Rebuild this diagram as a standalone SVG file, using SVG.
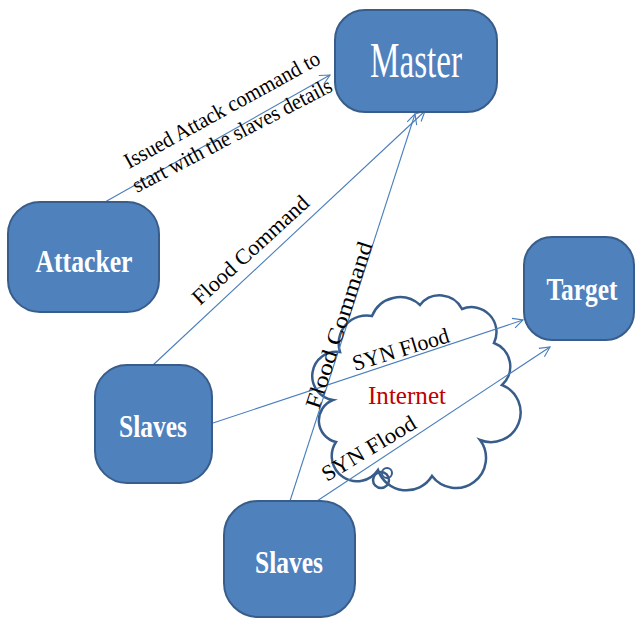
<svg xmlns="http://www.w3.org/2000/svg" width="635" height="619" viewBox="0 0 635 619">
<defs>
<style>
.node{fill:#4f81bd;stroke:#385d8a;stroke-width:2}
.nl{fill:#fff;font-family:"Liberation Serif","Times New Roman",serif;font-weight:bold;font-size:31px;text-anchor:middle}
.edge{fill:none;stroke:#4a7ebb;stroke-width:1.1}
.el{fill:#000;font-family:"Liberation Serif","Times New Roman",serif;font-size:22px}
</style>
<marker id="ah" viewBox="0 0 12 12" refX="11" refY="6" markerWidth="12" markerHeight="12" markerUnits="userSpaceOnUse" orient="auto">
<polyline points="1,1 11,6 1,11" fill="none" stroke="#4a7ebb" stroke-width="1.1"/>
</marker>
</defs>
<rect width="635" height="619" fill="#fff"/>
<g id="cloud">
<path d="M 340 352 A 28 28 0 0 1 372 316 A 30 30 0 0 1 420 305 A 25 25 0 0 1 462 309 A 25 25 0 0 1 494 343 A 25 25 0 0 1 502 385 A 28 28 0 0 1 480 440 A 30 30 0 0 1 432 476 A 30 30 0 0 1 378 470 A 25 25 0 0 1 336 442 A 22 22 0 0 1 333 400 A 22 22 0 0 1 340 352 Z" fill="#fff" stroke="#385d8a" stroke-width="2.5"/>
<circle cx="381" cy="480" r="8" fill="none" stroke="#385d8a" stroke-width="2.5"/>
<circle cx="387" cy="473" r="5" fill="none" stroke="#385d8a" stroke-width="2"/>
<text x="407" y="404" fill="#c00000" font-family="Liberation Serif, Times New Roman, serif" font-size="26" text-anchor="middle" textLength="78" lengthAdjust="spacingAndGlyphs">Internet</text>
</g>
<g id="connectors">
<line class="edge" x1="105" y1="202" x2="330" y2="75" marker-end="url(#ah)"/>
<line class="edge" x1="153" y1="365" x2="425" y2="111" marker-end="url(#ah)"/>
<line class="edge" x1="290" y1="501" x2="415" y2="114" marker-end="url(#ah)"/>
<line class="edge" x1="213" y1="423" x2="523" y2="320" marker-end="url(#ah)"/>
<line class="edge" x1="317" y1="501" x2="550" y2="347" marker-end="url(#ah)"/>
<text class="el" transform="translate(129,169) rotate(-28.8)" textLength="220" lengthAdjust="spacingAndGlyphs">Issued Attack command to</text>
<text class="el" transform="translate(137,193) rotate(-27.5)" textLength="222" lengthAdjust="spacingAndGlyphs">start with the slaves details</text>
<text class="el" font-size="20" transform="translate(200,306) rotate(-42.5)" textLength="150" lengthAdjust="spacingAndGlyphs">Flood Command</text>
<text class="el" font-size="20" transform="translate(319,410) rotate(-72)" textLength="174" lengthAdjust="spacingAndGlyphs">Flood Command</text>
<text class="el" transform="translate(355,371) rotate(-17)" textLength="100" lengthAdjust="spacingAndGlyphs">SYN Flood</text>
<text class="el" transform="translate(327,482) rotate(-31)" textLength="106" lengthAdjust="spacingAndGlyphs">SYN Flood</text>
</g>
<g id="master">
<rect class="node" x="335" y="10" width="162" height="102" rx="30"/>
<text x="416" y="77" fill="#fff" font-family="Liberation Serif, Times New Roman, serif" font-size="50" text-anchor="middle" textLength="92" lengthAdjust="spacingAndGlyphs">Master</text>
</g>
<g id="attacker">
<rect class="node" x="8" y="202" width="151" height="110" rx="32"/>
<text class="nl" x="84" y="272" textLength="97" lengthAdjust="spacingAndGlyphs">Attacker</text>
</g>
<g id="slaves1">
<rect class="node" x="95" y="365" width="117" height="118" rx="32"/>
<text class="nl" x="153" y="437" textLength="68" lengthAdjust="spacingAndGlyphs">Slaves</text>
</g>
<g id="slaves2">
<rect class="node" x="224" y="501" width="131" height="116" rx="34"/>
<text class="nl" x="289" y="573" textLength="68" lengthAdjust="spacingAndGlyphs">Slaves</text>
</g>
<g id="target">
<rect class="node" x="524" y="237" width="110" height="103" rx="28"/>
<text class="nl" x="582" y="300" textLength="71" lengthAdjust="spacingAndGlyphs">Target</text>
</g>
</svg>
